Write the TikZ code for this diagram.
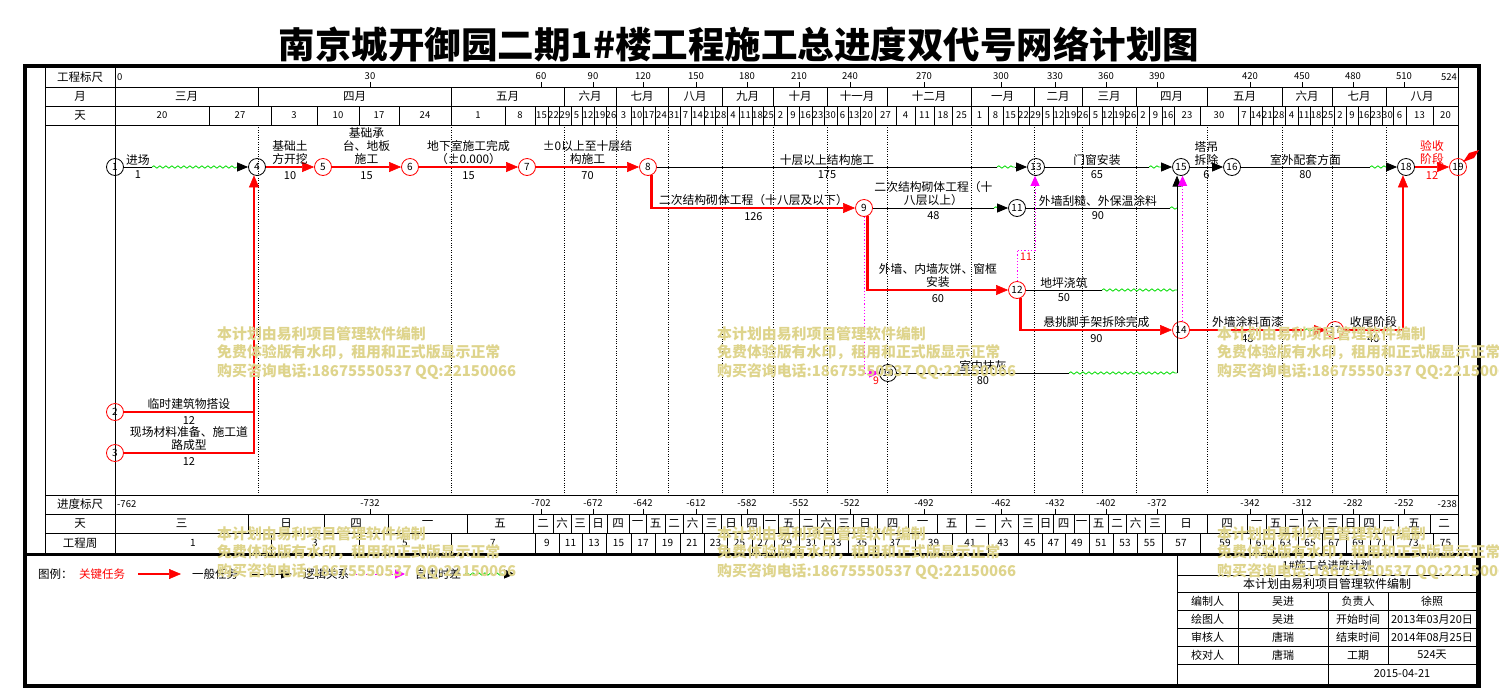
\documentclass[tikz,border=0pt]{standalone}
\usepackage{fontspec}
\setmainfont{Noto Sans CJK SC}
\usetikzlibrary{arrows.meta,decorations.pathmorphing}

\definecolor{critred}{RGB}{255,0,0}
\definecolor{logicpink}{RGB}{255,0,255}
\definecolor{floatgreen}{RGB}{0,220,0}
\definecolor{wmark}{RGB}{222,212,140}

\tikzset{
	tline/.style={line width=0.8pt},
	mgrid/.style={line width=0.7pt,dash pattern=on 0.8pt off 1.6pt},
	evt/.style={circle,draw,line width=0.8pt,inner sep=0pt,minimum size=17pt,font=\fontsize{10}{10}\selectfont},
	kevt/.style={evt,draw=critred},
	job/.style={draw,line width=0.8pt},
	jobarr/.style={job,-{Triangle[length=11pt,width=9pt]}},
	crit/.style={draw=critred,line width=2.6pt},
	critarr/.style={crit,-{Triangle[length=12pt,width=10pt,line width=0.5pt]}},
	flt/.style={draw=floatgreen,line width=0.8pt,decorate,decoration={snake,amplitude=1.2pt,segment length=6pt}},
	logic/.style={draw=logicpink,line width=0.9pt,dash pattern=on 1.2pt off 2pt,-{Triangle[length=10pt,width=9pt]}},
	lab/.style={font=\fontsize{11.8}{13}\selectfont,align=center,inner sep=1.5pt},
	dur/.style={font=\fontsize{11}{12}\selectfont,inner sep=3pt},
	flab/.style={font=\fontsize{10.5}{11}\selectfont,text=critred,inner sep=1pt},
	hdr/.style={font=\fontsize{11.5}{12}\selectfont,inner sep=0pt},
	cell/.style={font=\fontsize{9.5}{10}\selectfont,inner sep=0pt},
	tb/.style={font=\fontsize{11}{12}\selectfont,inner sep=0pt},
	wm/.style={font=\fontsize{14.9}{18.5}\selectfont\bfseries,text=wmark,align=left,inner sep=0pt}
}

\begin{document}
\begin{tikzpicture}[x=1pt,y=-1pt]
	\useasboundingbox (0,0) rectangle (1499,689);
	
	\node[font=\fontsize{36.5}{36.5}\selectfont\bfseries] (title) at (739,44) {南京城开御园二期1\#楼工程施工总进度双代号网络计划图};
	
	% frame and rows
	\draw[line width=4pt] (25,66) rectangle (1479,686);
	\draw[line width=3pt] (25,554) -- (1479,554);
	\draw[tline] (45,66) -- (45,553) (115,66) -- (115,553) (1458,66) -- (1458,553);
	\foreach \y in {87,106,125,495,514,533}
		\draw[tline] (45,\y) -- (1458,\y);
	\node[hdr] at (80,77.5) {工程标尺};
	\node[hdr] at (80,96.5) {月};
	\node[hdr] at (80,115.5) {天};
	\node[hdr] at (80,504.5) {进度标尺};
	\node[hdr] at (80,523.5) {天};
	\node[hdr] at (80,543) {工程周};
	
	% rulers
	\node[cell,anchor=west] at (117,77) {0};
	\node[cell,anchor=east] at (1457,77) {524};
	\node[cell,anchor=west] at (117,504) {-762};
	\node[cell,anchor=east] at (1457,504) {-238};
	\foreach \x/\t/\u in {370/30/-732, 541/60/-702, 593/90/-672, 643/120/-642, 696/150/-612,
		747/180/-582, 799/210/-552, 850/240/-522, 924/270/-492, 1001/300/-462, 1055/330/-432,
		1106/360/-402, 1157/390/-372, 1250/420/-342, 1302/450/-312, 1353/480/-282, 1404/510/-252} {
		\draw[tline] (\x,82) -- (\x,87);
		\node[cell] at (\x,76) {\t};
		\draw[tline] (\x,509) -- (\x,514);
		\node[cell] at (\x,503) {\u};
	}
	
	% months
	\foreach \t/\xb [remember=\xb as \xa (initially 115)] in {三月/258, 四月/451, 五月/564, 六月/616,
		七月/668, 八月/722, 九月/773, 十月/827, 十一月/887, 十二月/971, 一月/1034, 二月/1082,
		三月/1136, 四月/1207, 五月/1282, 六月/1332, 七月/1386, 八月/1458} {
		\draw[tline] (\xb,87) -- (\xb,106);
		\node[hdr] at ({(\xa+\xb)/2},96.5) {\t};
	}
	\foreach \x in {258,451,564,616,668,722,773,827,887,971,1034,1082,1136,1207,1282,1332,1386}
		\draw[mgrid] (\x,125) -- (\x,495);
	
	% days
	\foreach \t/\xb [remember=\xb as \xa (initially 115)] in {20/209, 27/271, 3/317, 10/359, 17/399,
		24/451, 1/505, 8/535, 15/548, 22/559, 29/571, 5/582, 12/594, 19/606, 26/616, 3/631, 10/643,
		17/655, 24/668, 31/680, 7/691, 14/704, 21/715, 28/727, 4/739, 11/752, 18/763, 25/774, 2/787,
		9/799, 16/812, 23/824, 30/837, 6/848, 13/860, 20/875, 27/896, 4/915, 11/934, 18/952, 25/971,
		1/988, 8/1003, 15/1018, 22/1029, 29/1042, 5/1053, 12/1065, 19/1077, 26/1089, 5/1102,
		12/1113, 19/1125, 26/1137, 2/1149, 9/1162, 16/1174, 23/1200, 30/1238, 7/1250, 14/1262,
		21/1273, 28/1285, 4/1298, 11/1310, 18/1322, 25/1334, 2/1346, 9/1358, 16/1370, 23/1382,
		30/1393, 6/1406, 13/1433, 20/1458} {
		\draw[tline] (\xb,106) -- (\xb,125);
		\node[cell] at ({(\xa+\xb)/2},115.5) {\t};
	}
	
	% weekdays
	\foreach \t/\xb [remember=\xb as \xa (initially 115)] in {三/248, 日/324, 四/388, 一/467, 五/533,
		二/553, 六/571, 三/589, 日/607, 四/629, 一/646, 五/665, 二/683, 六/702, 三/721, 日/741,
		四/763, 一/778, 五/799, 二/817, 六/835, 三/853, 日/877, 四/908, 一/937, 五/966, 二/995,
		六/1018, 三/1038, 日/1053, 四/1074, 一/1089, 五/1108, 二/1126, 六/1145, 三/1165, 日/1207,
		四/1247, 一/1266, 五/1285, 二/1303, 六/1323, 三/1342, 日/1359, 四/1379, 一/1398, 五/1430,
		二/1458} {
		\draw[tline] (\xb,514) -- (\xb,533);
		\node[hdr] at ({(\xa+\xb)/2},523.5) {\t};
	}
	
	% weeks
	\foreach \t/\xb [remember=\xb as \xa (initially 115)] in {1/271, 3/359, 5/451, 7/535, 9/559,
		11/582, 13/606, 15/631, 17/655, 19/680, 21/704, 23/727, 25/752, 27/774, 29/799, 31/824,
		33/848, 35/875, 37/915, 39/952, 41/988, 43/1018, 45/1042, 47/1065, 49/1089, 51/1113,
		53/1137, 55/1162, 57/1200, 59/1250, 61/1273, 63/1298, 65/1322, 67/1346, 69/1370, 71/1393,
		73/1433, 75/1458} {
		\draw[tline] (\xb,533) -- (\xb,553);
		\node[cell,font=\fontsize{10}{10}\selectfont] at ({(\xa+\xb)/2},543) {\t};
	}
	
	% events
	\node[evt] (n1) at (115,167) {1};
	\node[kevt] (n2) at (115,412) {2};
	\node[kevt] (n3) at (115,453) {3};
	\node[evt] (n4) at (257,167) {4};
	\node[kevt] (n5) at (323,167) {5};
	\node[kevt] (n6) at (410,167) {6};
	\node[kevt] (n7) at (527,167) {7};
	\node[kevt] (n8) at (648,167) {8};
	\node[kevt] (n9) at (864,208) {9};
	\node[evt] (n10) at (888,373) {10};
	\node[evt] (n11) at (1017,208) {11};
	\node[kevt] (n12) at (1017,290) {12};
	\node[evt] (n13) at (1036,167) {13};
	\node[kevt] (n14) at (1181,330) {14};
	\node[evt] (n15) at (1181,167) {15};
	\node[evt] (n16) at (1232,167) {16};
	\node[kevt] (n17) at (1335,330) {17};
	\node[evt] (n18) at (1406,167) {18};
	\node[kevt] (n19) at (1458,167) {19};
	\fill[critred] (1463,162) -- (1469,153) -- (1479,150) -- (1474,158) -- cycle;
	
	% float ends
	\coordinate (f1a) at (152,167);   \coordinate (f1b) at (239,167);
	\coordinate (f8a) at (997,167);   \coordinate (f8b) at (1015,167);
	\coordinate (f13a) at (1149,167); \coordinate (f13b) at (1161,167);
	\coordinate (f16a) at (1370,167); \coordinate (f16b) at (1386,167);
	\coordinate (f9a) at (994,208);   \coordinate (f9b) at (998,208);
	\coordinate (f11a) at (1170,208); \coordinate (j11) at (1177,208);
	\coordinate (f12a) at (1102,290); \coordinate (j12) at (1177,290);
	\coordinate (f10a) at (1069,373); \coordinate (j10) at (1177,373);
	\coordinate (f14a) at (1305,330); \coordinate (f14b) at (1314,330);
	\coordinate (k2) at (254,412);    \coordinate (k3) at (254,453);
	\coordinate (q12) at (1035,250);
	
	% jobs
	\path (n1) edge[job] node[lab,above]{进场} node[dur,below]{1} (f1a);
	\draw[flt] (f1a) -- (f1b);
	\path (f1b) edge[jobarr] (n4);
	\path (n4) edge[critarr] node[lab,above]{基础土\\方开挖} node[dur,below]{10} (n5);
	\path (n5) edge[critarr] node[lab,above]{基础承\\台、地板\\施工} node[dur,below]{15} (n6);
	\path (n6) edge[critarr] node[lab,above]{地下室施工完成\\（±0.000）} node[dur,below]{15} (n7);
	\path (n7) edge[critarr] node[lab,above]{±0以上至十层结\\构施工} node[dur,below]{70} (n8);
	\path (n8) edge[job] node[lab,above]{十层以上结构施工} node[dur,below]{175} (f8a);
	\draw[flt] (f8a) -- (f8b);
	\path (f8b) edge[jobarr] (n13);
	\path (n13) edge[job] node[lab,above]{门窗安装} node[dur,below]{65} (f13a);
	\draw[flt] (f13a) -- (f13b);
	\path (f13b) edge[jobarr] (n15);
	\path (n15) edge[jobarr] node[lab,above]{塔吊\\拆除} node[dur,below]{6} (n16);
	\path (n16) edge[job] node[lab,above]{室外配套方面} node[dur,below]{80} (f16a);
	\draw[flt] (f16a) -- (f16b);
	\path (f16b) edge[jobarr] (n18);
	\path (n18) edge[critarr] node[lab,above,text=critred]{验收\\阶段} node[dur,below,text=critred]{12} (n19);
	
	\draw[critarr] (n8.-65) |- node[lab,above,pos=0.75]{二次结构砌体工程（十八层及以下）} node[dur,below,pos=0.75]{126} (n9);
	\path (n9) edge[job] node[lab,above]{二次结构砌体工程（十\\八层以上）} node[dur,below]{48} (f9a);
	\draw[flt] (f9a) -- (f9b);
	\path (f9b) edge[jobarr] (n11);
	\path (n11) edge[job] node[lab,above]{外墙刮糙、外保温涂料} node[dur,below]{90} (f11a);
	\draw[flt] (f11a) -- (j11);
	\draw[critarr] (n9.-65) |- node[lab,above,pos=0.75]{外墙、内墙灰饼、窗框\\安装} node[dur,below,pos=0.75]{60} (n12);
	\path (n12) edge[job] node[lab,above]{地坪浇筑} node[dur,below]{50} (f12a);
	\draw[flt] (f12a) -- (j12);
	\draw[critarr] (n12.-65) |- node[lab,above,pos=0.75]{悬挑脚手架拆除完成} node[dur,below,pos=0.75]{90} (n14);
	\path (n10) edge[job] node[lab,above]{室内抹灰} node[dur,below]{80} (f10a);
	\draw[flt] (f10a) -- (j10);
	\draw[jobarr] (j10) -- (j10 |- n15.-105);
	\path (n14) edge[crit] node[lab,above]{外墙涂料面漆} node[dur,below]{48} (f14a);
	\draw[flt] (f14a) -- (f14b);
	\path (f14b) edge[critarr] (n17);
	\draw[critarr] (n17) -| node[lab,above,pos=0.25]{收尾阶段} node[dur,below,pos=0.25]{40} (n18.-110);
	\draw[crit] (n2) -- node[lab,above]{临时建筑物搭设} node[dur,below]{12} (k2);
	\draw[critarr] (n3) -- node[lab,above]{现场材料准备、施工道\\路成型} node[dur,below]{12} (k3) -- (k3 |- n4.-110);
	
	% logic links
	\draw[logic] (n9) |- node[flab,pos=0.9,below=2pt]{9} (n10);
	\draw[logic] (n12) |- node[flab,pos=0.75,below=2pt]{11} (q12) -- (q12 |- n13.south);
	\draw[logic] (n14.80) -- (n14.80 |- n15.-80);
	
	% legend
	\node[hdr,anchor=west] (lgt) at (38,574) {图例：};
	\node[hdr,anchor=west,text=critred] (lgcrit) at (79,574) {关键任务};
	\coordinate (lc1) at (138,574); \coordinate (lc2) at (181,574);
	\draw[critarr] (lc1) -- (lc2);
	\node[hdr,anchor=west] (lgjob) at (192,574) {一般任务};
	\coordinate (lj1) at (252,574); \coordinate (lj2) at (292,574);
	\draw[jobarr] (lj1) -- (lj2);
	\node[hdr,anchor=west] (lglogic) at (303,574) {逻辑关系};
	\coordinate (ll1) at (353,574); \coordinate (ll2) at (405,574);
	\draw[logic] (ll1) -- (ll2);
	\node[hdr,anchor=west] (lgflt) at (415,574) {自由时差};
	\coordinate (lf1) at (465,574); \coordinate (lf2) at (503,574); \coordinate (lf3) at (515,574);
	\draw[flt] (lf1) -- (lf2);
	\draw[jobarr] (lf2) -- (lf3);
	
	% title block
	\draw[tline] (1177,555) rectangle (1476,684);
	\foreach \y in {575,592,610,628,646,664}
		\draw[tline] (1177,\y) -- (1476,\y);
	\draw[tline] (1238,592) -- (1238,664) (1328,592) -- (1328,684) (1388,592) -- (1388,664);
	\node[tb] at (1327,565) {1\#施工总进度计划};
	\node[tb,font=\fontsize{12}{12}\selectfont] at (1327,583.5) {本计划由易利项目管理软件编制};
	\foreach \y/\ta/\tb/\tc/\td in {601/编制人/吴进/负责人/徐照, 619/绘图人/吴进/开始时间/2013年03月20日,
		637/审核人/唐瑞/结束时间/2014年08月25日, 655/校对人/唐瑞/工期/524天} {
		\node[tb] at (1207.5,\y) {\ta};
		\node[tb] at (1283,\y) {\tb};
		\node[tb] at (1358,\y) {\tc};
		\node[tb] at (1432,\y) {\td};
	}
	\node[tb] at (1402,674) {2015-04-21};
	
	% watermark
	\foreach \x/\y in {217/326, 717/326, 1217/326, 217/526, 717/526, 1217/526}
		\node[wm,anchor=north west] at (\x,\y) {本计划由易利项目管理软件编制\\免费体验版有水印，租用和正式版显示正常\\购买咨询电话:18675550537 QQ:22150066};
\end{tikzpicture}
\end{document}
